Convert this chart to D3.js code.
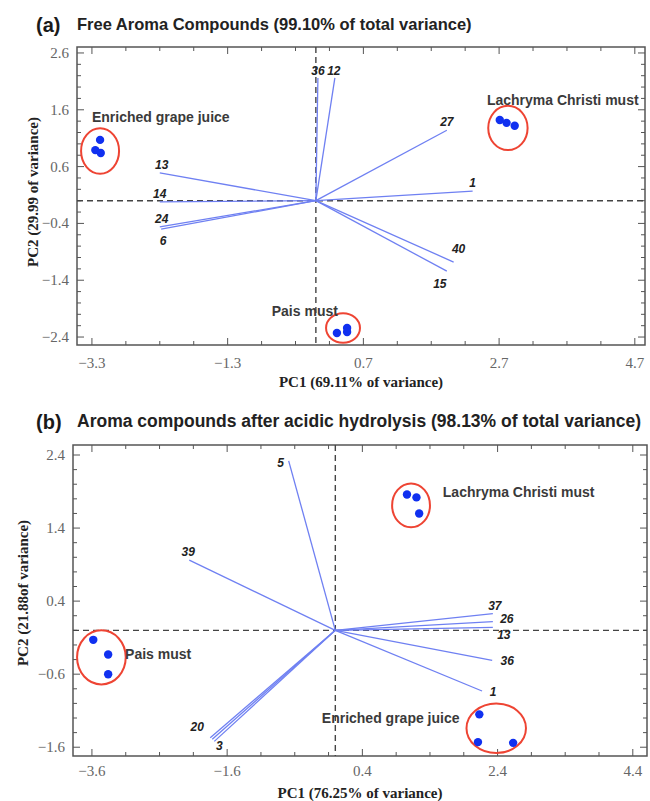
<!DOCTYPE html>
<html>
<head>
<meta charset="utf-8">
<script src="https://cdn.jsdelivr.net/npm/d3@7"></script>
<style>
  body { margin: 0; background: #fff; }
  svg { display: block; }
</style>
</head>
<body>
<div id="chart"></div>
<script>
/* ---------------- data : panel (a) free aroma compounds ---------------- */
var aVarNames = ['36', '12', '13', '14', '24', '6', '27', '1', '40', '15'];
var aVarPC1   = [0.03, 0.28, -2.30, -2.30, -2.30, -2.28, 1.93, 2.31, 2.03, 1.93];
var aVarPC2   = [2.16, 2.16, 0.49, -0.02, -0.46, -0.50, 1.24, 0.17, -1.08, -1.24];

var aGroups   = ['Enriched grape juice', 'Lachryma Christi must', 'Pais must'];
var aScorePC1 = [[-3.18, -3.25, -3.17], [2.71, 2.81, 2.93], [0.31, 0.46, 0.46]];
var aScorePC2 = [[1.07, 0.89, 0.84], [1.42, 1.37, 1.32], [-2.33, -2.31, -2.24]];

var aXTicks = [-3.3, -1.3, 0.7, 2.7, 4.7];
var aYTicks = [-2.4, -1.4, -0.4, 0.6, 1.6, 2.6];

/* ---------------- data : panel (b) after acidic hydrolysis ---------------- */
var bVarNames = ['5', '39', '20', '', '3', '37', '26', '13', '36', '1'];
var bVarPC1   = [-0.69, -2.16, -1.85, -1.82, -1.79, 2.33, 2.33, 2.33, 2.32, 2.17];
var bVarPC2   = [2.32, 0.96, -1.47, -1.49, -1.52, 0.23, 0.12, 0.04, -0.41, -0.83];

var bGroups   = ['Lachryma Christi must', 'Pais must', 'Enriched grape juice'];
var bScorePC1 = [[1.06, 1.20, 1.24], [-3.58, -3.36, -3.36], [2.13, 2.11, 2.63]];
var bScorePC2 = [[1.86, 1.82, 1.60], [-0.13, -0.33, -0.60], [-1.15, -1.53, -1.54]];

var bXTicks = [-3.6, -1.6, 0.4, 2.4, 4.4];
var bYTicks = [-1.6, -0.6, 0.4, 1.4, 2.4];

/* ---------------- layout (pixels / placement, not data) ---------------- */
var panels = [
  {
    tag: '(a)', title: 'Free Aroma Compounds (99.10% of total variance)', titleSize: 16.5,
    xLabel: 'PC1 (69.11% of variance)', yLabel: 'PC2 (29.99 of variance)',
    box: { left: 77, right: 645, top: 47, bottom: 345 },
    xDomain: [-3.52, 4.85], yDomain: [-2.54, 2.705],
    xTicks: aXTicks, yTicks: aYTicks, xMinor: 0.5, yMinor: 0.2,
    names: aVarNames, pc1: aVarPC1, pc2: aVarPC2,
    groups: aGroups, s1: aScorePC1, s2: aScorePC2,
    // ellipse centre / radii in PC units
    rings: [[-3.18, 0.875, 0.28, 0.40], [2.83, 1.28, 0.29, 0.39], [0.40, -2.24, 0.25, 0.26]],
    groupPos: [[-3.30, 1.39], [2.52, 1.68], [-0.65, -2.03]],
    nudge: [[0, -3], [-1, -3], [2, -4], [0, -4], [2, -4], [2, 16], [0, -4], [0, -4], [5, -9], [-7, 17]],
    titleY: 31, xTickY: 368, xLabelY: 387, yLabelX: 38, yLabelC: 192
  },
  {
    tag: '(b)', title: 'Aroma compounds after acidic hydrolysis (98.13% of total variance)', titleSize: 17.5,
    xLabel: 'PC1 (76.25% of variance)', yLabel: 'PC2 (21.88of variance)',
    box: { left: 73, right: 647, top: 445, bottom: 756 },
    xDomain: [-3.88, 4.61], yDomain: [-1.72, 2.537],
    xTicks: bXTicks, yTicks: bYTicks, xMinor: 0.5, yMinor: 0.2,
    names: bVarNames, pc1: bVarPC1, pc2: bVarPC2,
    groups: bGroups, s1: bScorePC1, s2: bScorePC2,
    rings: [[1.12, 1.71, 0.28, 0.30], [-3.46, -0.37, 0.36, 0.37], [2.38, -1.34, 0.44, 0.34]],
    groupPos: [[1.59, 1.82], [-3.11, -0.39], [-0.20, -1.27]],
    nudge: [[-8, 6], [-1, -4], [-13, -7], [0, 0], [5, 9], [2, -4], [14, 1], [11, 12], [15, 5], [11, 5]],
    titleY: 428, xTickY: 776, xLabelY: 798, yLabelX: 28, yLabelC: 593
  }
];

var svg = d3.select('#chart').append('svg')
  .attr('width', 650)
  .attr('height', 801);

var frameColor = '#555';
var vecColor = '#6f80f2';
var dotColor = '#1030f0';
var ringColor = '#ee4433';

function drawBiplot(p) {
  var b = p.box;
  var x = d3.scaleLinear().domain(p.xDomain).range([b.left, b.right]);
  var y = d3.scaleLinear().domain(p.yDomain).range([b.bottom, b.top]);
  var g = svg.append('g');

  // titles
  g.append('text')
    .attr('x', 36).attr('y', p.titleY + 1)
    .attr('font-family', 'Liberation Sans, Arial, sans-serif')
    .attr('font-weight', 'bold')
    .attr('font-size', 20).attr('fill', '#1a1a1a')
    .text(p.tag);
  g.append('text')
    .attr('x', 77).attr('y', p.titleY - 1)
    .attr('font-family', 'Liberation Sans, Arial, sans-serif')
    .attr('font-weight', 'bold').attr('font-size', p.titleSize).attr('fill', '#222')
    .text(p.title);

  // frame
  g.append('rect')
    .attr('x', b.left).attr('y', b.top)
    .attr('width', b.right - b.left).attr('height', b.bottom - b.top)
    .attr('fill', 'none').attr('stroke', frameColor).attr('stroke-width', 1.5);

  // ticks, minor + major, mirrored on all four sides (pointing inward)
  var majX = p.xTicks, majY = p.yTicks;
  var minX = d3.range(majX[0] - p.xMinor, majX[majX.length - 1] + p.xMinor + 1e-9, p.xMinor)
    .filter(function(v) { return v >= p.xDomain[0] && v <= p.xDomain[1]; });
  var minY = d3.range(majY[0] - 2 * p.yMinor * 5, majY[majY.length - 1] + p.yMinor * 5, p.yMinor)
    .filter(function(v) { return v >= p.yDomain[0] && v <= p.yDomain[1]; });
  var isMajor = function(list, v) {
    return list.some(function(m) { return Math.abs(m - v) < 1e-6; });
  };
  var tk = g.append('g').attr('stroke', frameColor).attr('stroke-width', 1);
  minX.forEach(function(v) {
    var len = isMajor(majX, v) ? 7 : 4;
    tk.append('line').attr('x1', x(v)).attr('x2', x(v)).attr('y1', b.bottom).attr('y2', b.bottom - len);
    tk.append('line').attr('x1', x(v)).attr('x2', x(v)).attr('y1', b.top).attr('y2', b.top + len);
  });
  minY.forEach(function(v) {
    var len = isMajor(majY, v) ? 7 : 4;
    tk.append('line').attr('y1', y(v)).attr('y2', y(v)).attr('x1', b.left).attr('x2', b.left + len);
    tk.append('line').attr('y1', y(v)).attr('y2', y(v)).attr('x1', b.right).attr('x2', b.right - len);
  });

  // tick labels
  g.selectAll('.xt').data(majX).enter().append('text')
    .attr('x', function(d) { return x(d); }).attr('y', p.xTickY)
    .attr('text-anchor', 'middle')
    .attr('font-family', 'Liberation Serif, Times New Roman, serif')
    .attr('font-size', 15).attr('fill', '#666')
    .text(function(d) { return d3.format('.1f')(d); });
  g.selectAll('.yt').data(majY).enter().append('text')
    .attr('x', b.left - 8).attr('y', function(d) { return y(d) + 5; })
    .attr('text-anchor', 'end')
    .attr('font-family', 'Liberation Serif, Times New Roman, serif')
    .attr('font-size', 15).attr('fill', '#666')
    .text(function(d) { return d3.format('.1f')(d); });

  // axis titles
  g.append('text')
    .attr('x', (b.left + b.right) / 2 + 0).attr('y', p.xLabelY)
    .attr('text-anchor', 'middle')
    .attr('font-family', 'Liberation Serif, Times New Roman, serif')
    .attr('font-weight', 'bold').attr('font-size', 15).attr('fill', '#222')
    .text(p.xLabel);
  g.append('text')
    .attr('transform', 'translate(' + p.yLabelX + ',' + p.yLabelC + ') rotate(-90)')
    .attr('text-anchor', 'middle')
    .attr('font-family', 'Liberation Serif, Times New Roman, serif')
    .attr('font-weight', 'bold').attr('font-size', 15).attr('fill', '#222')
    .text(p.yLabel);

  // dashed zero lines
  g.append('line')
    .attr('x1', b.left).attr('x2', b.right).attr('y1', y(0)).attr('y2', y(0))
    .attr('stroke', '#444').attr('stroke-width', 1.4).attr('stroke-dasharray', '6,4');
  g.append('line')
    .attr('x1', x(0)).attr('x2', x(0)).attr('y1', b.top).attr('y2', b.bottom)
    .attr('stroke', '#444').attr('stroke-width', 1.4).attr('stroke-dasharray', '6,4');

  // loading vectors
  var vec = p.names.map(function(n, i) {
    return { name: n, pc1: p.pc1[i], pc2: p.pc2[i], nudge: p.nudge[i] };
  });
  g.selectAll('.vec').data(vec).enter().append('line')
    .attr('x1', x(0)).attr('y1', y(0))
    .attr('x2', function(d) { return x(d.pc1); })
    .attr('y2', function(d) { return y(d.pc2); })
    .attr('stroke', vecColor).attr('stroke-width', 1.3);
  g.selectAll('.vl').data(vec).enter().append('text')
    .attr('x', function(d) { return x(d.pc1) + d.nudge[0]; })
    .attr('y', function(d) { return y(d.pc2) + d.nudge[1]; })
    .attr('text-anchor', 'middle')
    .attr('font-family', 'Liberation Sans, Arial, sans-serif')
    .attr('font-style', 'italic').attr('font-weight', 'bold')
    .attr('font-size', 12).attr('fill', '#222')
    .text(function(d) { return d.name; });

  // sample groups: ellipse, points, label
  p.groups.forEach(function(name, gi) {
    var r = p.rings[gi];
    g.append('ellipse')
      .attr('cx', x(r[0])).attr('cy', y(r[1]))
      .attr('rx', x(r[2]) - x(0)).attr('ry', y(0) - y(r[3]))
      .attr('fill', 'none').attr('stroke', ringColor).attr('stroke-width', 2);
    g.selectAll('.pt' + gi).data(p.s1[gi]).enter().append('circle')
      .attr('cx', function(d) { return x(d); })
      .attr('cy', function(d, i) { return y(p.s2[gi][i]); })
      .attr('r', 4.2).attr('fill', dotColor);
    g.append('text')
      .attr('x', x(p.groupPos[gi][0])).attr('y', y(p.groupPos[gi][1]))
      .attr('font-family', 'Liberation Sans, Arial, sans-serif')
      .attr('font-weight', 'bold')
      .attr('font-size', 14).attr('fill', '#3a3a3a')
      .text(name);
  });
}

panels.forEach(function(p) { drawBiplot(p); });
</script>
</body>
</html>
